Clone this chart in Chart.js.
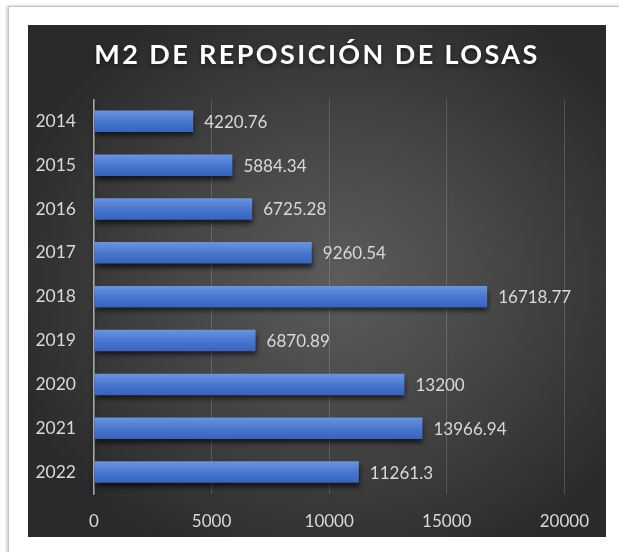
<!DOCTYPE html>
<html>
<head>
<meta charset="utf-8">
<script src="https://cdn.jsdelivr.net/npm/chart.js@4/dist/chart.umd.min.js"></script>
<style>
  html, body { margin: 0; padding: 0; background: #ffffff; width: 619px; height: 552px; overflow: hidden; }
  #frame { position: absolute; left: 8px; top: 6px; width: 700px; height: 700px; border: 1px solid #c4c4c4; box-shadow: -1px 0 3px rgba(0,0,0,0.25); background: #fff; }
  #panel { position: absolute; left: 28px; top: 25px; width: 578px; height: 512px;
    background: radial-gradient(ellipse 60% 60% at 54% 50%, #5c5c5c 0%, #474747 45%, #2a2a2a 100%); }
  canvas { display: block; }
</style>
</head>
<body>
<div id="frame"></div>
<div id="panel"><canvas id="c" width="578" height="512"></canvas></div>
<script>
const titleText = 'M2 DE REPOSICIÓN DE LOSAS';
const years = ['2014', '2015', '2016', '2017', '2018', '2019', '2020', '2021', '2022'];
const m2Values = [4220.76, 5884.34, 6725.28, 9260.54, 16718.77, 6870.89, 13200, 13966.94, 11261.3];
const xTicks = [0, 5000, 10000, 15000, 20000];

const FONT = 'Lato, "Open Sans", sans-serif';

const styleHooks = {
  id: 'styleHooks',
  beforeDraw(chart) {
    const ctx = chart.ctx;
    ctx.save();
    ctx.letterSpacing = '2.4px';
    ctx.shadowColor = 'rgba(0,0,0,0.5)';
    ctx.shadowBlur = 4;
    ctx.shadowOffsetY = 2;
  },
  beforeDatasetsDraw(chart) {
    const ctx = chart.ctx;
    ctx.restore();
    ctx.save();
    ctx.shadowColor = 'rgba(0,0,0,0.65)';
    ctx.shadowBlur = 5;
    ctx.shadowOffsetY = 4;
    ctx.shadowOffsetX = 1;
  },
  afterDatasetsDraw(chart) {
    const ctx = chart.ctx;
    ctx.restore();
    const meta = chart.getDatasetMeta(0);
    ctx.save();
    ctx.font = '17px ' + FONT;
    ctx.fillStyle = '#d9d9d9';
    ctx.textAlign = 'left';
    ctx.textBaseline = 'middle';
    meta.data.forEach((bar, i) => {
      ctx.fillText(String(m2Values[i]), bar.x + 11, bar.y + 1);
    });
    ctx.restore();
  }
};

new Chart(document.getElementById('c'), {
  type: 'bar',
  data: {
    labels: years,
    datasets: [{
      data: m2Values,
      backgroundColor(context) {
        const chart = context.chart;
        const y = chart.scales && chart.scales.y;
        if (!chart.chartArea || !y) return '#4472c4';
        const cy = y.getPixelForValue(context.dataIndex);
        const g = chart.ctx.createLinearGradient(0, cy - 11, 0, cy + 11);
        g.addColorStop(0, '#6a95e0');
        g.addColorStop(0.5, '#4a78d0');
        g.addColorStop(1, '#3462bd');
        return g;
      },
      borderWidth: 0,
      barPercentage: 0.49,
      categoryPercentage: 1.0
    }]
  },
  options: {
    indexAxis: 'y',
    responsive: false,
    animation: false,
    devicePixelRatio: 1,
    layout: { padding: { left: 0, right: 0, top: 0, bottom: 0 } },
    plugins: {
      legend: { display: false },
      tooltip: { enabled: false },
      title: {
        display: true,
        text: titleText,
        color: '#ffffff',
        font: { family: FONT, size: 27, weight: 'bold', lineHeight: 1.2 },
        padding: { top: 14, bottom: 28 }
      }
    },
    scales: {
      x: {
        min: 0, max: 21741,
        afterBuildTicks(scale) { scale.ticks = xTicks.map(v => ({ value: v })); },
        afterFit(scale) { scale.height = 43; },
        grid: { color: 'rgba(255,255,255,0.17)', lineWidth: 1, drawTicks: false },
        border: { display: false },
        ticks: { color: '#d9d9d9', font: { family: FONT, size: 17 }, padding: 17, z: 1,
                 callback: (v) => String(v) }
      },
      y: {
        afterFit(scale) { scale.width = 66; },
        grid: { display: false, drawTicks: false },
        border: { display: true, color: '#a6a6a6', width: 1.5 },
        ticks: { color: '#d9d9d9', font: { family: FONT, size: 17.5 }, padding: 18, z: 1 }
      }
    }
  },
  plugins: [styleHooks]
});
</script>
</body>
</html>
